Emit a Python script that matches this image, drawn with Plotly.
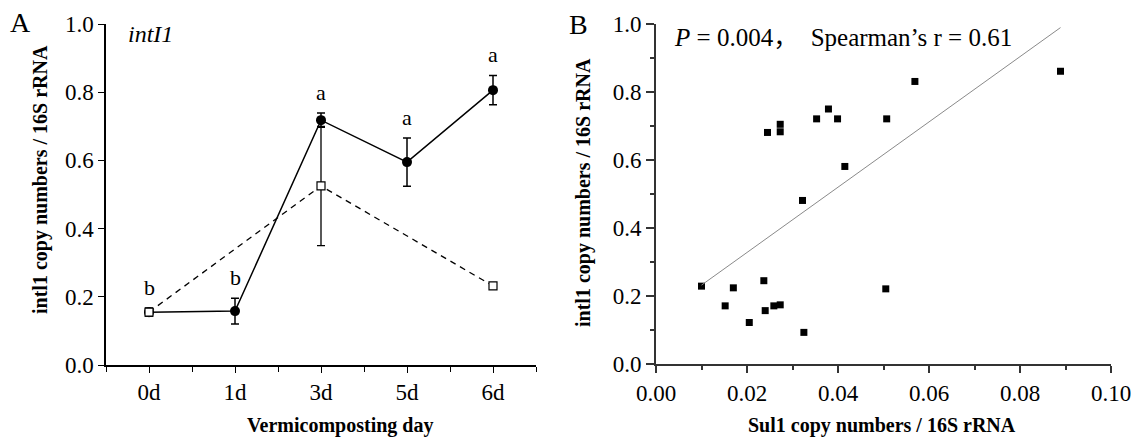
import plotly.graph_objects as go
import numpy as np

# ---------------- Panel A data ----------------
days = ["0d", "1d", "3d", "5d", "6d"]
day_pos = [0, 1, 2, 3, 4]
solid_y = [0.155, 0.158, 0.718, 0.595, 0.806]
solid_err = [0.012, 0.038, 0.021, 0.071, 0.043]
sig_letters = ["b", "b", "a", "a", "a"]

dash_pos = [0, 2, 4]
dash_y = [0.155, 0.525, 0.232]
dash_err = [0.010, 0.175, 0.008]

# ---------------- Panel B data ----------------
sul1_x = [0.0100, 0.0170, 0.0152, 0.0205, 0.0237, 0.0240, 0.0259, 0.0273, 0.0325,
          0.0322, 0.0245, 0.0273, 0.0273, 0.0353, 0.0379, 0.0399, 0.0415, 0.0507,
          0.0505, 0.0569, 0.0889]
intl1_y = [0.229, 0.224, 0.171, 0.122, 0.245, 0.157, 0.171, 0.174, 0.093,
           0.481, 0.681, 0.705, 0.683, 0.721, 0.750, 0.721, 0.581, 0.721,
           0.221, 0.831, 0.861]
trend_slope = 9.6
trend_intercept = 0.136

W, H = 1133, 437
FONT = "Liberation Serif, Noto Sans CJK SC, Times New Roman, serif"

def px(x):
    return x / W

def py(y):
    return 1 - y / H

fig = go.Figure()

# solid series
fig.add_trace(go.Scatter(
    x=day_pos, y=solid_y, mode="lines+markers",
    line=dict(color="black", width=1.5),
    marker=dict(symbol="circle", size=10, color="black"),
    error_y=dict(type="data", array=solid_err, color="black", thickness=1.5, width=4),
    xaxis="x", yaxis="y", showlegend=False))

# dashed series
fig.add_trace(go.Scatter(
    x=dash_pos, y=dash_y, mode="lines+markers",
    line=dict(color="black", width=1.3, dash="6px,5px"),
    marker=dict(symbol="square", size=8, color="white", line=dict(color="black", width=1.2)),
    error_y=dict(type="data", array=dash_err, color="black", thickness=1.3, width=4),
    xaxis="x", yaxis="y", showlegend=False))

# scatter panel B
fig.add_trace(go.Scatter(
    x=sul1_x, y=intl1_y, mode="markers",
    marker=dict(symbol="square", size=7, color="black"),
    xaxis="x2", yaxis="y2", showlegend=False))

tx = np.array([min(sul1_x), max(sul1_x)])
fig.add_trace(go.Scatter(
    x=tx, y=trend_intercept + trend_slope * tx, mode="lines",
    line=dict(color="#8a8a8a", width=1),
    xaxis="x2", yaxis="y2", showlegend=False))

annotations = []
# significance letters
for xp, yv, ev, lt in zip(day_pos, solid_y, solid_err, sig_letters):
    annotations.append(dict(x=xp, y=yv + ev, xref="x", yref="y", text=lt,
                            showarrow=False, yanchor="bottom", yshift=6,
                            font=dict(family=FONT, size=22, color="black")))

def paper_text(text, x, y, size, xanchor="center", angle=0):
    annotations.append(dict(x=px(x), y=py(y), xref="paper", yref="paper", text=text,
                            showarrow=False, xanchor=xanchor, yanchor="middle",
                            textangle=angle,
                            font=dict(family=FONT, size=size, color="black")))

paper_text("A", 21, 23, 28)
paper_text("B", 578, 24, 28)
paper_text("<i>intI1</i>", 126, 34, 24, xanchor="left")
paper_text("<i>P</i> = 0.004，  Spearman’s r = 0.61", 672, 38, 25, xanchor="left")
paper_text("<b>Vermicomposting day</b>", 340, 425, 20)
paper_text("<b>Sul1 copy numbers / 16S rRNA</b>", 882, 425, 20)
paper_text("<b>intl1 copy numbers / 16S rRNA</b>", 40, 180, 20, angle=-90)
paper_text("<b>intl1 copy numbers / 16S rRNA</b>", 583, 193, 20, angle=-90)

tickfont = dict(family=FONT, size=23, color="black")

fig.update_layout(
    width=W, height=H,
    margin=dict(l=0, r=0, t=0, b=0),
    paper_bgcolor="white", plot_bgcolor="white",
    annotations=annotations,
    xaxis=dict(domain=[px(106), px(536)], anchor="y", range=[-0.5, 4.5],
               tickvals=day_pos, ticktext=days, ticks="outside", ticklen=6,
               tickwidth=1.3, tickcolor="black",
               minor=dict(tickvals=[-0.5, 0.5, 1.5, 2.5, 3.5, 4.5], ticks="outside",
                          ticklen=5, tickwidth=1.3, tickcolor="black"),
               showline=True, linecolor="black", linewidth=1.5, showgrid=False,
               zeroline=False, tickfont=tickfont, automargin=False),
    yaxis=dict(domain=[py(365), py(24)], anchor="x", range=[0, 1.0],
               tickvals=[0, 0.2, 0.4, 0.6, 0.8, 1.0], tickformat=".1f",
               ticks="outside", ticklen=6, tickwidth=1.3, tickcolor="black",
               showline=True, linecolor="black", linewidth=1.5, showgrid=False,
               zeroline=False, tickfont=tickfont, automargin=False),
    xaxis2=dict(domain=[px(656), px(1111)], anchor="y2", range=[0, 0.1],
                tickvals=[0, 0.02, 0.04, 0.06, 0.08, 0.1], tickformat=".2f",
                ticks="outside", ticklen=7, tickwidth=1.5, tickcolor="#333",
                minor=dict(tickvals=[0.01, 0.03, 0.05, 0.07, 0.09], ticks="outside",
                           ticklen=4, tickwidth=1.5, tickcolor="#333"),
                showline=True, linecolor="#333", linewidth=2, showgrid=False,
                zeroline=False, tickfont=tickfont, automargin=False),
    yaxis2=dict(domain=[py(364), py(24)], anchor="x2", range=[0, 1.0],
                tickvals=[0, 0.2, 0.4, 0.6, 0.8, 1.0], tickformat=".1f",
                ticks="outside", ticklen=8, tickwidth=1.5, tickcolor="#333",
                minor=dict(tickvals=[0.1, 0.3, 0.5, 0.7, 0.9], ticks="outside",
                           ticklen=4, tickwidth=1.5, tickcolor="#333"),
                showline=True, linecolor="#333", linewidth=2, showgrid=False,
                zeroline=False, tickfont=tickfont, automargin=False),
)

fig.write_html("out.html")
